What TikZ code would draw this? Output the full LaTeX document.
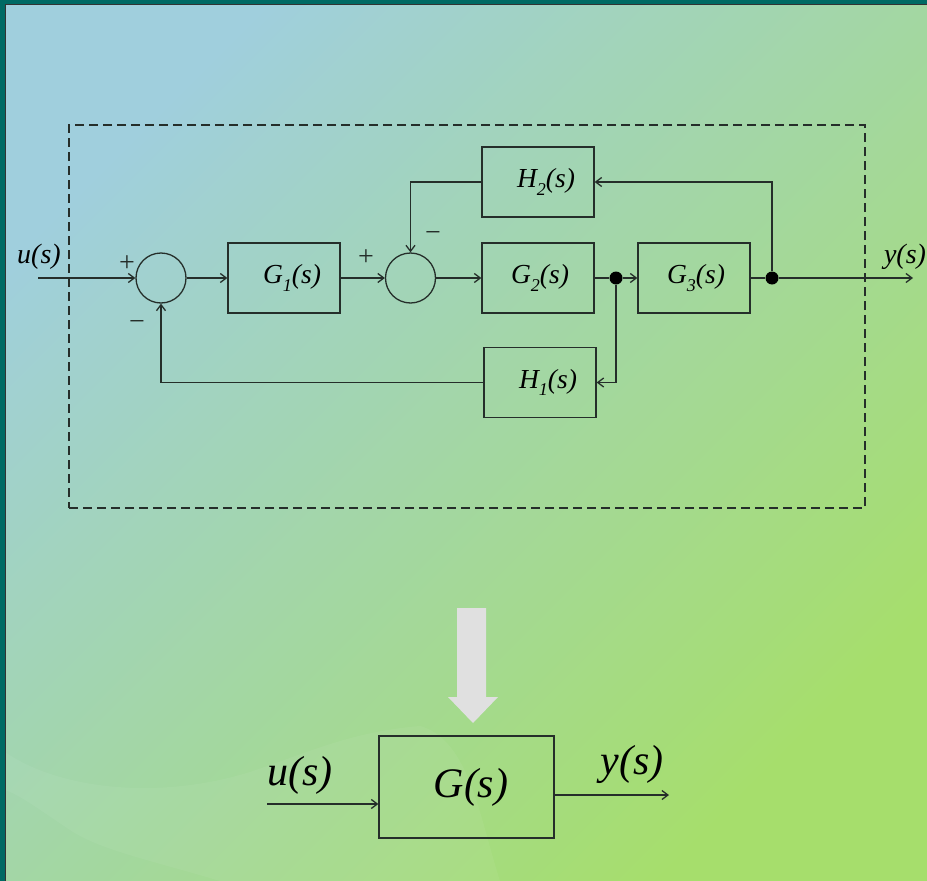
\documentclass[tikz,border=0pt]{standalone}
\usepackage{fontspec}
\setmainfont{Liberation Serif}
\usetikzlibrary{arrows.meta,calc}
\definecolor{bgA}{HTML}{A0CFDD}
\definecolor{bgB}{HTML}{A6DE6C}
\definecolor{frameteal}{HTML}{006A64}
\definecolor{ink}{HTML}{252E2A}
\definecolor{bigarrow}{HTML}{E0E0E0}

% transfer-function label: letter, italic subscript, (s)
\newcommand\tf[2]{\itshape #1\raisebox{-0.28em}{\fontsize{18}{18}\selectfont #2}(s)}

\begin{document}
\begin{tikzpicture}[x=1pt,y=-1pt,
  wire/.style={draw=ink, line width=1.3pt},
  arr/.style={wire, -{Straight Barb[length=6pt,width=9pt]}},
  blockbox/.style={draw=ink, line width=1.3pt, minimum width=112pt,
    minimum height=70pt, inner sep=0pt, font=\fontsize{27.5}{30}\selectfont},
  sumnode/.style={circle, draw=ink, line width=1.3pt, minimum size=50pt, inner sep=0pt},
  junction/.style={circle, fill=black, minimum size=13pt, inner sep=0pt},
  sign/.style={font=\fontsize{28}{28}\selectfont, inner sep=0pt, text=ink},
  siglab/.style={font=\fontsize{28}{30}\selectfont\itshape, inner sep=0pt},
  biglab/.style={font=\fontsize{42}{44}\selectfont\itshape, inner sep=0pt},
]
\useasboundingbox (0,0) rectangle (927,881);

% background
\shade[top color=bgA, bottom color=bgB, shading angle=45] (0,0) rectangle (927,881);
\fill[white, opacity=0.05] (5,752) .. controls (60,790) and (160,800) .. (250,772)
  .. controls (310,752) and (350,732) .. (420,726)
  .. controls (470,740) and (480,820) .. (500,881) -- (220,881)
  .. controls (150,860) and (100,850) .. (70,830) .. controls (40,810) and (20,795) .. (5,790) -- cycle;
\fill[frameteal] (0,0) rectangle (927,4);
\fill[frameteal] (0,0) rectangle (5,881);
\draw[black!80, line width=1pt] (5.5,881) -- (5.5,4.5) -- (927,4.5);

% outer dashed boundary
\node[draw=ink, line width=1.2pt, dash pattern=on 9pt off 5pt, minimum width=796pt,
  minimum height=383pt, inner sep=0pt] (plant) at (467,316.5) {};

% blocks and junctions
\node[sumnode] (s1) at (161,278) {};
\node[blockbox] (g1) at (284,278) {\hspace*{16pt}\raisebox{-4pt}{\tf{G}{1}}};
\node[sumnode] (s2) at (410.5,278) {};
\node[blockbox] (g2) at (538,278) {\hspace*{4pt}\raisebox{-4pt}{\tf{G}{2}}};
\node[blockbox] (h2) at (538,182) {\hspace*{16pt}\raisebox{-4pt}{\tf{H}{2}}};
\node[junction] (j1) at (616,278) {};
\node[blockbox] (g3) at (694,278) {\hspace*{4pt}\raisebox{-4pt}{\tf{G}{3}}};
\node[junction] (j2) at (772,278) {};
\node[blockbox] (h1) at (540,382.5) {\hspace*{16pt}\raisebox{-4pt}{\tf{H}{1}}};
\coordinate (uin) at (38,278);
\coordinate (yout) at (913,278);

% forward path
\draw[arr] (uin) -- (s1.west);
\draw[arr] (s1.east) -- (g1.west);
\draw[arr] (g1.east) -- (s2.west);
\draw[arr] (s2.east) -- (g2.west);
\draw[wire] (g2.east) -- (j1);
\draw[arr] (j1) -- (g3.west);
\draw[wire] (g3.east) -- (j2);
\draw[arr] (j2) -- (yout);

% feedback paths
\draw[arr] (j2) |- (h2.east);
\draw[arr] (h2.west) -| (s2.north);
\draw[arr] (j1) |- (h1.east);
\draw[arr] (h1.west) -| (s1.south);

% signs
\node[sign] (p1) at (127,264) {+};
\node[sign] (m1) at (137,325) {−};
\node[sign] (p2) at (366,258) {+};
\node[sign] (m2) at (433,236) {−};

% signal labels
\node[siglab] (ulab) at (39,257) {u(s)};
\node[siglab] (ylab) at (905,257) {y(s)};

% equivalent single block
\fill[bigarrow] (457,608) -- (486,608) -- (486,697) -- (498,697) -- (473,723)
  -- (448,697) -- (457,697) -- cycle;
\node[draw=ink, line width=1.3pt, minimum width=175pt, minimum height=102pt,
  inner sep=0pt, biglab] (G) at (466.5,787) {\hspace*{9pt}G(s)};
\coordinate (uin2) at (267,804);
\coordinate (yout2) at (669,795);
\draw[arr] (uin2) -- (uin2 -| G.west);
\draw[arr] (G.east |- yout2) -- (yout2);
\node[biglab] (ulab2) at (300,775) {u(s)};
\node[biglab] (ylab2) at (632,764) {y(s)};
\end{tikzpicture}
\end{document}
